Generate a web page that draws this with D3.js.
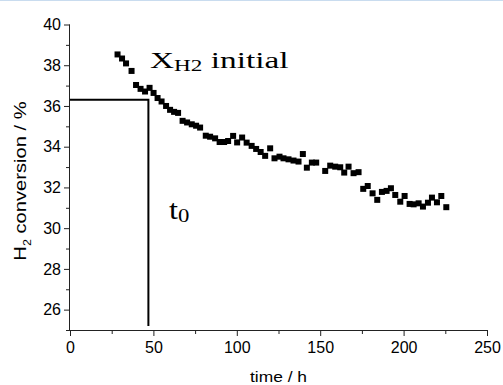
<!DOCTYPE html>
<html>
<head>
<meta charset="utf-8">
<script src="https://cdn.jsdelivr.net/npm/d3@7"></script>
<style>
  body { margin: 0; background: #fff; }
  svg { display: block; }
</style>
</head>
<body>
<div id="chart"></div>
<script>
// time on stream (h) and H2 conversion (%)
const times = [28.5, 31.2, 33.6, 36.9, 39.6, 42.3, 45.0, 47.7, 50.1, 52.5,
  54.9, 57.6, 60.0, 62.4, 64.8, 67.5, 70.2, 73.0, 75.6, 78.0,
  81.4, 84.0, 87.0, 89.7, 92.4, 94.8, 97.8, 100.2, 103.2, 105.9,
  108.9, 111.6, 114.3, 117.0, 120.0, 122.6, 125.6, 128.0, 131.0, 134.0,
  137.0, 139.6, 142.0, 145.0, 147.6, 153.0, 156.0, 159.0, 162.0, 164.4,
  167.0, 170.0, 173.0, 175.8, 178.5, 181.4, 184.2, 187.0, 189.8, 192.4,
  195.0, 198.0, 200.6, 203.6, 206.0, 209.0, 211.6, 214.6, 217.0, 220.0,
  222.6, 225.6];
const conversion = [38.53, 38.33, 38.09, 37.72, 37.03, 36.84, 36.71, 36.89, 36.64, 36.39,
  36.22, 36.00, 35.81, 35.71, 35.66, 35.27, 35.19, 35.10, 35.03, 34.94,
  34.54, 34.49, 34.41, 34.23, 34.23, 34.28, 34.53, 34.21, 34.45, 34.20,
  34.04, 33.89, 33.74, 33.55, 33.92, 33.43, 33.51, 33.43, 33.38, 33.32,
  33.27, 33.64, 32.97, 33.22, 33.22, 32.81, 33.07, 33.02, 32.99, 32.73,
  33.02, 32.70, 32.75, 31.93, 32.07, 31.71, 31.39, 31.78, 31.83, 31.96,
  31.63, 31.30, 31.58, 31.19, 31.17, 31.22, 31.06, 31.25, 31.50, 31.27,
  31.58, 31.03];

const xTicks = [0, 50, 100, 150, 200, 250];
const yTicks = [26, 28, 30, 32, 34, 36, 38, 40];

// marker of the initial conversion X_H2 and the time t0
const t0 = 47;
const xInitial = 36.3;
const lineBottom = 25.2;

const width = 503, height = 385;
const margin = {top: 24, right: 16, bottom: 55, left: 70};

const svg = d3.select("#chart").append("svg")
  .attr("width", width)
  .attr("height", height);

// thin frame line along the top of the picture
svg.append("line")
  .attr("x1", 0).attr("x2", width)
  .attr("y1", 0.5).attr("y2", 0.5)
  .attr("stroke", "#c9dcef");

const x = d3.scaleLinear().domain([0, 250]).range([margin.left, 487]);
const y = d3.scaleLinear().domain([25, 40]).range([330, 24.5]);

const axisFont = "'Liberation Sans', Arial, sans-serif";

// x axis, major + minor ticks
const xAxis = svg.append("g")
  .attr("transform", `translate(0,${y(25)})`)
  .call(d3.axisBottom(x).tickValues(xTicks).tickSize(6).tickPadding(6).tickFormat(d3.format("d")));
svg.append("g")
  .attr("transform", `translate(0,${y(25)})`)
  .call(d3.axisBottom(x).tickValues(d3.range(25, 250, 50)).tickSize(4).tickFormat(""))
  .select(".domain").remove();

// y axis, major + minor ticks
const yAxis = svg.append("g")
  .attr("transform", `translate(${x(0)},0)`)
  .call(d3.axisLeft(y).tickValues(yTicks).tickSize(6).tickPadding(3).tickFormat(d3.format("d")));
svg.append("g")
  .attr("transform", `translate(${x(0)},0)`)
  .call(d3.axisLeft(y).tickValues(d3.range(25, 40, 2)).tickSize(4).tickFormat(""))
  .select(".domain").remove();

svg.selectAll(".tick text")
  .style("font-family", axisFont)
  .style("font-size", "16px")
  .attr("fill", "#000");
svg.selectAll(".domain, .tick line").attr("stroke", "#222");
xAxis.select(".domain").attr("d", `M${x(0)},0.5H${x(250)}`);
yAxis.select(".domain").attr("d", `M-0.5,${y(25)}V${y(40)}`);

// axis titles (the original is a little stretched sideways)
svg.append("text")
  .attr("x", (x(0) + x(250)) / 2)
  .attr("y", 382)
  .attr("text-anchor", "middle")
  .attr("textLength", 57)
  .attr("lengthAdjust", "spacingAndGlyphs")
  .style("font-family", axisFont)
  .style("font-size", "15px")
  .text("time / h");

const yTitle = svg.append("g")
  .attr("transform", `translate(26,181) rotate(-90) scale(1.26,1)`)
  .append("text")
  .attr("text-anchor", "middle")
  .style("font-family", axisFont)
  .style("font-size", "16px");
yTitle.append("tspan").text("H");
yTitle.append("tspan").attr("dy", 5).style("font-size", "10px").text("2");
yTitle.append("tspan").attr("dy", -5).text(" conversion / %");

// guide lines for X_H2 initial and t0
svg.append("path")
  .attr("d", `M${x(0)},${y(xInitial)}H${x(t0)}V${y(lineBottom)}`)
  .attr("fill", "none")
  .attr("stroke", "#000")
  .attr("stroke-width", 2);

// data points
const pts = times.map((t, i) => ({t, v: conversion[i]}));
const s = 6;
svg.append("g").selectAll("rect")
  .data(pts)
  .enter().append("rect")
  .attr("x", d => x(d.t) - s / 2)
  .attr("y", d => y(d.v) - s / 2)
  .attr("width", s)
  .attr("height", s)
  .attr("fill", "#000");

// annotations
const serif = "'Liberation Serif', 'Times New Roman', serif";
const lab1 = svg.append("g")
  .attr("transform", "translate(150,68) scale(1.45,1)")
  .append("text")
  .style("font-family", serif)
  .style("font-size", "23px");
lab1.append("tspan").text("X");
lab1.append("tspan").attr("dy", 3).style("font-size", "16px").text("H2");
lab1.append("tspan").attr("dy", -3).text(" initial");

const lab2 = svg.append("g")
  .attr("transform", "translate(169,219) scale(1.2,1)")
  .append("text")
  .style("font-family", serif)
  .style("font-size", "27px");
lab2.append("tspan").text("t");
lab2.append("tspan").attr("dy", 3).style("font-size", "19px").text("0");
</script>
</body>
</html>
